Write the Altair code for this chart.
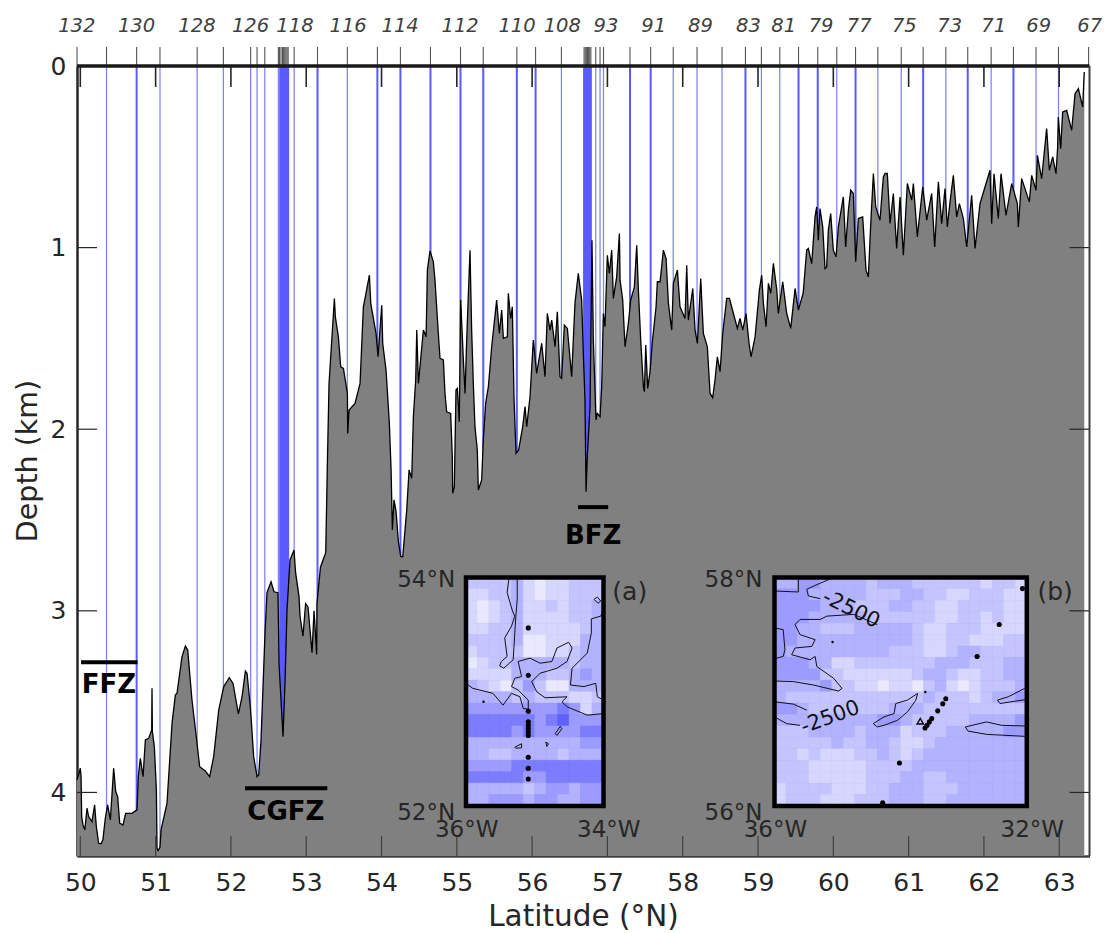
import altair as alt
import pandas as pd

FONT = "DejaVu Sans"
INK = "#262626"

# Bottom profile (latitude N, depth km), read section by section
profile_a = [(49.956,3.931),(49.98,3.90),(50.0,3.867),(50.01,3.913),(50.018,4.133),(50.036,4.179),(50.06,4.206),(50.089,4.087),
    (50.11,4.133),(50.155,4.161),(50.19,4.069),(50.213,4.188),(50.244,4.28),(50.275,4.283),(50.3,4.261),(50.332,4.142),
    (50.363,4.069),(50.399,4.151),(50.443,3.867),(50.47,3.995),(50.496,4.023),(50.523,4.169),(50.567,4.179),(50.602,4.115),
    (50.686,4.115),(50.753,4.096),(50.77,3.913),(50.797,3.812),(50.833,3.913),(50.864,3.711),(50.908,3.702),(50.948,3.656),
    (50.952,3.427),(50.957,3.665),(50.983,3.748),(51.01,3.986),(51.019,4.307),(51.032,4.32),(51.058,4.302),(51.072,4.206),
    (51.151,4.06),(51.218,3.62),(51.262,3.464),(51.284,3.454),(51.35,3.253),(51.395,3.194),(51.426,3.216),(51.483,3.491),
    (51.55,3.73),(51.585,3.858),(51.66,3.882),(51.718,3.913),(51.771,3.803),(51.838,3.546),(51.904,3.418),(51.979,3.368),
    (52.028,3.4),(52.099,3.568),(52.148,3.473),(52.192,3.332),(52.214,3.344),(52.258,3.528),(52.302,3.803),(52.347,3.913),
    (52.369,3.904),(52.4,3.711)]
profile_b = [(52.453,3.12),(52.479,2.90),(52.533,2.84),(52.572,2.895),(52.625,2.90),(52.64,3.3),(52.692,3.693),(52.718,3.4),
    (52.745,2.995),(52.785,2.72),(52.838,2.665),(52.859,2.79),(52.904,2.92),(52.918,3.03),(52.957,3.14),(52.992,2.96),
    (53.024,2.98),(53.077,3.23),(53.104,3.0),(53.139,3.24),(53.143,2.96),(53.189,2.76),(53.259,2.68),(53.282,2.17),
    (53.303,1.75),(53.374,1.28),(53.387,1.381),(53.427,1.491),(53.458,1.656),(53.494,1.665),(53.547,1.803),(53.551,2.023),
    (53.569,1.894),(53.648,1.858),(53.715,1.748),(53.759,1.326),(53.781,1.28),(53.839,1.152),(53.857,1.307),(53.927,1.472),
    (53.954,1.601),(54.003,1.317),(54.016,1.528),(54.06,1.674),(54.104,1.968),(54.127,2.224),(54.144,2.555),(54.166,2.389),
    (54.193,2.454),(54.224,2.619),(54.255,2.701),(54.282,2.701),(54.335,2.444),(54.366,2.224),(54.401,2.27),(54.423,1.931),
    (54.454,1.729),(54.468,1.454),(54.49,1.748),(54.556,1.454),(54.592,1.491),(54.609,1.124)]
profile_c = [(54.644,1.018),(54.688,1.078),(54.71,1.179),(54.732,1.326),(54.763,1.527),(54.777,1.61),(54.821,1.619),(54.843,1.803),
    (54.865,1.904),(54.918,1.913),(54.94,2.151),(54.945,2.353),(54.967,2.316),(54.989,1.784),(55.007,1.775),(55.033,1.959),
    (55.051,1.289),(55.087,1.619),(55.109,1.803),(55.131,1.509),(55.175,1.014),(55.197,1.454),(55.219,1.748),(55.241,1.986),
    (55.272,2.114),(55.286,2.335),(55.33,2.279),(55.352,2.059),(55.383,1.858),(55.419,1.766),(55.463,1.546),(55.529,1.289),
    (55.565,1.473),(55.596,1.344),(55.618,1.5),(55.671,1.491),(55.684,1.252),(55.715,1.39),(55.737,1.326),(55.759,1.821),
    (55.786,2.133),(55.821,2.114),(55.875,1.986),(55.906,1.876),(55.928,1.986),(55.972,1.821),(56.016,1.509),(56.06,1.693),
    (56.127,1.527),(56.171,1.711),(56.202,1.362),(56.238,1.454),(56.26,1.399),(56.304,1.546),(56.335,1.353),(56.37,1.711),
    (56.392,1.72),(56.428,1.427),(56.468,1.445),(56.525,1.711),(56.569,1.307),(56.613,1.142),(56.658,1.289),(56.68,1.583),
    (56.702,1.839),(56.716,2.344),(56.733,2.151),(56.769,1.876),(56.795,0.959),(56.813,1.509),(56.848,1.949),(56.866,1.913),
    (56.902,1.931),(56.924,1.766),(56.946,1.363)]
profile_d = [(56.968,1.436),(56.999,1.042),(57.026,1.142),(57.057,1.014),(57.079,1.28),(57.123,1.161),(57.159,0.922),(57.168,1.179),
    (57.203,1.289),(57.234,1.546),(57.278,1.418),(57.309,1.289),(57.358,1.216),(57.389,0.987),(57.411,1.234),(57.442,1.509),
    (57.478,1.766),(57.491,1.793),(57.509,1.537),(57.535,1.775),(57.566,1.683),(57.597,1.518),(57.646,1.326),(57.663,1.188),
    (57.699,1.188),(57.743,1.014),(57.779,1.06),(57.81,1.307),(57.854,1.454),(57.876,1.197),(57.929,1.124),(57.964,1.326),
    (58.031,1.39),(58.053,1.097),(58.075,1.399),(58.133,1.225),(58.164,1.454),(58.195,1.528),(58.239,1.17),(58.274,1.472),
    (58.327,1.546),(58.363,1.803),(58.398,1.826),(58.429,1.729),(58.46,1.601),(58.496,1.683),(58.531,1.472),(58.584,1.28),
    (58.62,1.28),(58.673,1.363),(58.726,1.445),(58.761,1.39),(58.797,1.454),(58.841,1.363),(58.881,1.528),(58.907,1.601),
    (58.961,1.491),(59.018,1.234),(59.049,1.152),(59.071,1.307),(59.107,1.436),(59.138,1.197),(59.169,1.252),(59.204,1.087),
    (59.249,1.234),(59.27,1.363),(59.328,1.188),(59.381,1.363),(59.434,1.445),(59.492,1.225),(59.536,1.344),(59.6,1.25)]
profile_e = [(59.646,1.014),(59.668,1.005),(59.713,1.088),(59.757,0.831),(59.779,0.776),(59.801,0.959),(59.823,0.785),(59.859,0.886),
    (59.89,1.115),(59.912,1.106),(59.934,0.904),(59.965,0.812),(60.0,1.014),(60.036,1.051),(60.067,0.886),(60.133,0.721),
    (60.164,0.996),(60.2,0.794),(60.231,0.684),(60.266,0.702),(60.297,1.078),(60.332,0.84),(60.39,0.831),(60.434,1.124),
    (60.465,1.161),(60.496,0.877),(60.532,0.592),(60.563,0.776),(60.62,0.849),(60.664,0.611),(60.687,0.592),(60.717,0.592),
    (60.753,0.867),(60.797,0.702),(60.841,1.005),(60.886,0.721),(60.93,1.042),(60.983,0.647),(61.041,0.739),(61.063,0.647),
    (61.116,0.941),(61.187,0.666),(61.24,0.849),(61.306,0.702),(61.346,0.996)]
profile_f = [(61.395,0.638),(61.439,0.868),(61.483,0.675),(61.514,0.886),(61.55,0.748),(61.594,0.602),(61.638,0.831),(61.674,0.758),
    (61.727,0.84),(61.771,0.996),(61.793,0.904),(61.837,0.712),(61.882,1.005),(61.948,0.758),(62.014,0.666),(62.081,0.574),
    (62.103,0.868),(62.134,0.593),(62.191,0.84),(62.227,0.593),(62.293,0.822),(62.369,0.648),(62.444,0.758),(62.457,0.886),
    (62.501,0.62),(62.603,0.748),(62.634,0.602),(62.692,0.684),(62.71,0.492),(62.767,0.62),(62.833,0.345),(62.869,0.574),
    (62.913,0.501),(62.957,0.593),(62.979,0.446),(62.988,0.281),(63.019,0.455),(63.046,0.253),(63.099,0.244),(63.165,0.354),
    (63.21,0.152),(63.254,0.125),(63.312,0.226),(63.329,0.061),(63.333,0.033)]
profile = profile_a + profile_b + profile_c + profile_d + profile_e + profile_f

# Stations
stations_thin = [50.348,51.058,51.552,51.9,52.262,52.347,52.45,52.63,52.645,52.84,53.546,56.389,56.845,56.902,56.948,
    57.874,58.19,58.522,59.045,59.289,60.046,60.591,60.902,61.494,62.096,62.692,62.99]
stations_bold = [50.748,52.665,52.685,52.70,52.715,52.73,52.745,52.76,53.15,53.945,54.251,54.65,55.049,55.351,55.797,56.046,
    56.69,56.705,56.72,56.735,56.75,56.765,56.78,57.3,57.574,58.833,59.538,59.793,60.295,61.193,61.785,62.392]
station_edges = [49.956,63.39]
top_names = ["132","130","128","126","118","116","114","112","110","108","93","91","89","83","81","79","77","75","73","71","69","67"]
top_lats = [49.953,50.746,51.549,52.26,52.85,53.556,54.247,55.044,55.8,56.4,56.98,57.615,58.236,58.873,59.342,59.837,60.344,60.943,61.545,62.13,62.727,63.405]
lat_ticks = list(range(50, 64))
depth_ticks = [0, 1, 2, 3, 4]

LAT_DOMAIN = [49.956, 63.402]
DEPTH_MAX = 4.35
W, H = 1012.5, 790

xs = alt.Scale(domain=LAT_DOMAIN, nice=False, zero=False)
ys = alt.Scale(domain=[0, DEPTH_MAX], nice=False, zero=False, reverse=True)
x_axis = alt.Axis(
        values=lat_ticks, title="Latitude (°N)", format="d", grid=False, ticks=False, labelFont=FONT, labelFontSize=25,
        labelColor=INK, labelPadding=14, domainColor="#404040", domainWidth=2.5, titleFont=FONT, titleFontSize=29.5,
        titleFontWeight="normal", titleColor=INK, titleX=506, titleY=69, titleBaseline="alphabetic")
y_axis = alt.Axis(
        values=depth_ticks, title="Depth (km)", format="d", grid=False, ticks=False, labelFont=FONT, labelFontSize=25,
        labelColor=INK, labelPadding=11, domainColor=INK, domainWidth=2.5, titleFont=FONT, titleFontSize=28.5,
        titleFontWeight="normal", titleColor=INK, titleX=-41, titleY=394.5, titleBaseline="alphabetic")
X = alt.X("lat:Q", scale=xs, axis=x_axis)
Y = alt.Y("depth:Q", scale=ys, axis=y_axis)
Xn = X
Yn = Y

prof_df = pd.DataFrame(profile, columns=["lat", "depth"])

def xframe(vals):
    return pd.DataFrame({"lat": vals})
def yframe(vals):
    return pd.DataFrame({"depth": vals})

rule_thin = alt.Chart(xframe(stations_thin)).mark_rule(color="#7c7cff", strokeWidth=1.2).encode(
    x=Xn, y=alt.value(0), y2=alt.value(H))
rule_bold = alt.Chart(xframe(stations_bold)).mark_rule(color="#5a5aff", strokeWidth=2).encode(
    x=Xn, y=alt.value(0), y2=alt.value(H))
area = alt.Chart(prof_df).mark_area(color="#808080", opacity=1, line={"color": "black", "strokeWidth": 1.3}, interpolate="linear").encode(
    x=X, y=Y, y2=alt.datum(DEPTH_MAX))
top_ticks = alt.Chart(xframe(stations_thin + stations_bold + station_edges)).mark_rule(color="#555555", strokeWidth=1.1).encode(
    x=Xn, y=alt.value(-19), y2=alt.value(0))
top_text = alt.Chart(pd.DataFrame({"lat": top_lats, "name": top_names})).mark_text(
    font=FONT, fontSize=19.5, fontStyle="italic", color="#404040", baseline="alphabetic", align="center").encode(
    x=Xn, y=alt.value(-34), text="name:N")
in_top = alt.Chart(xframe(lat_ticks)).mark_rule(color=INK, strokeWidth=1.6).encode(x=Xn, y=alt.value(0), y2=alt.value(21))
in_bot = alt.Chart(xframe(lat_ticks)).mark_rule(color="#404040", strokeWidth=1.2).encode(x=Xn, y=alt.value(H - 20), y2=alt.value(H))
in_left = alt.Chart(yframe(depth_ticks[1:])).mark_rule(color=INK, strokeWidth=1.2).encode(y=Yn, x=alt.value(0), x2=alt.value(20))
in_right = alt.Chart(yframe(depth_ticks[1:])).mark_rule(color=INK, strokeWidth=1.2).encode(y=Yn, x=alt.value(W - 20), x2=alt.value(W))
frame_top = alt.Chart(yframe([0])).mark_rule(color="#1a1a1a", strokeWidth=3.5).encode(y=Yn, x=alt.value(0), x2=alt.value(W))
frame_right = alt.Chart(xframe([LAT_DOMAIN[1]])).mark_rule(color="#404040", strokeWidth=2).encode(x=Xn, y=alt.value(0), y2=alt.value(H))

# Fracture-zone bars and names
fz_names = ["FFZ", "CGFZ", "BFZ"]
fz_start = [50.01, 52.187, 56.61]
fz_end = [50.76, 53.28, 57.01]
fz_bar_depth = [3.283, 3.977, 2.429]
fz_text_lat = [50.38, 52.73, 56.81]
fz_text_depth = [3.452, 4.15, 2.632]
fz_bars = alt.Chart(pd.DataFrame({"lat": fz_start, "lat2": fz_end, "depth": fz_bar_depth})).mark_rule(color="black", strokeWidth=4).encode(
    x=Xn, x2="lat2:Q", y=Yn)
fz_text = alt.Chart(pd.DataFrame({"lat": fz_text_lat, "depth": fz_text_depth, "name": fz_names})).mark_text(
    font=FONT, fontSize=26, fontWeight="bold", color="black", baseline="alphabetic", align="center").encode(x=Xn, y=Yn, text="name:N")

# Inset corner labels, placed in the main chart's coordinates
def text_layer(lats, deps, labels, align, size=23):
    return alt.Chart(pd.DataFrame({"lat": lats, "depth": deps, "name": labels})).mark_text(
        font=FONT, fontSize=size, color=INK, baseline="alphabetic", align=align).encode(x=Xn, y=Yn, text="name:N")

lab_center = text_layer([55.131, 57.018, 59.231, 62.642], [4.245] * 4, ["36°W", "34°W", "36°W", "32°W"], "center")
lab_right = text_layer([54.978, 54.978, 59.06, 59.06], [2.869, 4.151, 2.869, 4.151], ["54°N", "52°N", "58°N", "56°N"], "right")
lab_left = text_layer([57.065, 62.711], [2.94, 2.94], ["(a)", "(b)"], "left", 25)

main = alt.layer(rule_thin, rule_bold, area, top_ticks, top_text, in_top, in_bot, in_left, in_right, frame_top, frame_right,
                 fz_bars, fz_text, lab_center, lab_right, lab_left)

# Inset maps: shading level per cell, rows from north to south
LEVEL_COLORS = ["#e8e8ff", "#d6d6ff", "#c4c4ff", "#b2b2ff", "#9c9cff", "#7c7cff", "#6060ff"]
levels_a = [
    [2,2,2,2,3,1,0,1,1,2,2,2],[1,1,2,2,3,1,0,1,1,2,2,2],[1,0,1,2,3,1,1,2,1,2,2,3],[1,0,1,2,3,1,1,1,1,2,2,3],
    [1,1,2,2,3,1,1,1,1,1,2,3],[2,2,2,2,3,0,0,1,1,1,3,3],[1,2,2,2,2,0,0,1,1,2,3,3],[0,1,2,2,3,3,3,3,3,2,3,3],
    [1,1,1,1,3,3,3,2,2,3,4,3],[3,2,1,0,2,4,2,0,0,3,3,3],[3,3,3,3,2,3,2,2,2,1,1,2],[4,4,4,4,4,4,4,4,5,4,1,3],
    [5,5,5,5,5,5,4,5,6,4,4,4],[5,5,5,5,4,5,4,4,4,4,5,5],[3,3,3,3,3,3,3,3,3,3,4,4],[3,3,2,2,3,3,3,3,2,3,3,3],
    [4,4,4,4,5,5,5,5,5,5,5,5],[5,5,5,5,5,4,4,5,5,5,5,5],[3,3,3,3,3,2,3,4,4,3,4,4],[3,3,4,4,4,3,4,4,3,3,4,4]]
levels_b = [
    [3,3,4,4,3,3,3,3,2,3,3,3,2,2,2,2,2,2,1,2,2,1],[4,4,4,3,3,3,3,3,2,2,2,3,3,2,2,1,1,2,2,2,1,1],
    [4,4,4,4,3,3,3,2,2,2,3,3,2,2,1,1,2,2,2,2,1,1],[4,4,4,3,3,3,3,3,2,2,2,2,2,2,1,1,2,2,1,2,1,1],
    [4,4,3,3,2,2,2,3,3,3,3,3,2,1,1,2,2,2,1,1,1,1],[4,4,3,3,3,3,3,3,3,3,3,3,2,1,1,2,2,1,1,1,2,2],
    [4,3,3,3,3,3,3,3,3,3,2,2,2,1,1,2,3,3,2,2,2,2],[4,4,4,3,3,1,1,2,2,2,2,2,2,2,3,3,3,2,2,2,3,3],
    [4,4,4,4,2,2,1,1,1,1,1,1,2,3,3,2,1,1,2,2,3,3],[3,3,3,3,4,2,2,1,1,0,1,1,0,2,3,1,0,1,2,2,2,3],
    [3,2,2,2,2,2,2,2,2,2,2,2,2,3,2,2,2,1,2,3,3,4],[4,4,3,2,2,2,2,2,2,2,3,3,3,2,2,2,2,2,2,2,2,2],
    [3,3,3,3,3,3,3,3,3,4,4,3,2,2,2,2,2,3,3,3,3,4],[2,2,2,3,3,3,3,2,3,3,3,1,2,2,2,3,3,3,3,3,4,4],
    [2,2,2,2,2,3,2,2,3,3,2,1,1,2,3,3,3,3,3,3,3,3],[2,2,1,2,1,1,1,2,2,3,2,1,2,3,3,3,3,3,3,3,3,3],
    [2,2,2,1,1,1,1,1,2,2,2,2,3,3,3,3,3,3,3,3,3,3],[2,2,2,1,1,1,1,1,2,2,2,3,3,2,2,3,3,3,3,3,3,3],
    [1,2,2,2,2,1,1,1,2,2,3,3,3,2,2,2,3,3,3,3,3,3],[1,2,2,2,1,1,1,2,2,2,3,3,3,2,2,3,3,3,3,3,3,3]]

contours_a = [
    [(-35.373,54),(-35.402,53.868),(-35.324,53.706),(-35.29,53.662),(-35.338,53.574),(-35.437,53.471),(-35.402,53.309),(-35.486,53.265),
     (-35.51,53.227),(-35.451,53.206),(-35.314,53.28),(-35.275,53.662),(-35.255,53.809),(-35.255,54)],
    [(-36,53.074),(-35.902,53.03),(-35.608,52.986),(-35.461,52.883),(-35.338,52.986),(-35.216,52.956),(-35.167,52.853),(-35.094,52.848),
     (-35.094,52.927),(-35.241,53.015),(-35.338,53.045),(-35.29,53.118),(-35.192,53.133),(-35.241,53.265),(-35.069,53.294),(-34.922,53.25),
     (-34.75,53.265),(-34.677,53.383),(-34.506,53.433),(-34.457,53.383),(-34.53,53.265),(-34.677,53.206),(-34.922,53.162),(-35.045,53.089),
     (-34.971,53.0),(-34.849,52.947),(-34.53,52.956),(-34.604,52.912),(-34.53,52.868),(-34.236,52.795),(-34,52.809)],
    [(-34,53.721),(-34.04,53.662),(-34.177,53.638),(-34.177,53.515),(-34.236,53.339),(-34.457,53.206),(-34.481,53.059),(-34.285,53.045),
     (-34.113,53.074),(-34.089,52.956),(-34,52.927)],
    [(-34.138,53.809),(-34.089,53.829),(-34.04,53.794),(-34.08,53.774),(-34.138,53.809)],
    [(-34.702,52.633),(-34.628,52.698),(-34.604,52.677),(-34.677,52.618),(-34.702,52.633)],
    [(-35.29,52.515),(-35.192,52.545),(-35.192,52.509),(-35.275,52.506),(-35.29,52.515)],
    [(-34.839,52.559),(-34.8,52.545),(-34.824,52.521),(-34.839,52.559)]]
contours_b = [
    [(-36,57.882),(-35.622,57.873),(-35.622,57.985),(-35.65,58)],
    [(-35.063,58),(-35.276,57.95),(-35.489,57.897),(-35.462,57.838),(-35.276,57.815)],
    [(-34.37,57.588),(-34.743,57.677),(-35.169,57.662),(-35.276,57.633),(-35.595,57.633),(-35.675,57.588),(-35.595,57.5),(-35.356,57.456),
     (-35.409,57.397),(-35.675,57.383),(-35.728,57.324),(-35.435,57.28),(-35.356,57.309),(-35.329,57.221),(-35.063,57.118),(-34.93,57.03),
     (-34.983,57.006),(-35.382,57.059),(-35.702,57.089),(-36,57.094)],
    [(-36,57.559),(-35.862,57.544),(-35.835,57.368),(-35.862,57.309),(-36,57.289)],
    [(-36,56.912),(-35.702,56.892),(-35.489,56.839)],
    [(-36,56.78),(-35.808,56.721),(-35.595,56.706)],
    [(-34.434,56.721),(-34.264,56.78),(-34.104,56.809),(-34.077,56.897),(-33.891,56.927),(-33.731,56.986),(-33.758,56.927),(-33.891,56.824),
     (-34.051,56.75),(-34.264,56.706),(-34.37,56.692),(-34.434,56.721)],
    [(-32,57.039),(-32.293,56.956),(-32.464,56.927),(-32.426,56.897),(-32,56.933)],
    [(-32,56.7),(-32.4,56.706),(-32.639,56.736),(-32.975,56.692),(-32.932,56.656),(-32.639,56.627),(-32,56.609)]]

stations_a = [(-35.094,53.559),(-35.094,53.144),(-35.094,52.83),(-35.094,52.736),(-35.094,52.706),(-35.094,52.677),(-35.094,52.648),
              (-35.094,52.618),(-35.094,52.427),(-35.094,52.33),(-35.094,52.236)]
small_a = [(-35.745,52.912)]
stations_b = [(-32.069,57.903),(-32.437,57.588),(-32.788,57.309),(-33.284,56.939),(-33.332,56.895),(-33.412,56.833),(-33.507,56.765),
              (-33.545,56.736),(-33.582,56.706),(-33.614,56.683),(-34.019,56.377),(-34.285,56.027)]
small_b = [(-33.609,56.997),(-35.079,57.436)]
triangle_b = [(-33.689,56.742)]
contour_labels_b = [(-34.786,57.72,"-2500",26),(-35.116,56.774,"-2500",340)]

def inset(levels, contours, stations, small, lon_dom, lat_dom, x_range, y_range, triangle=None, labels=None):
    sx = alt.Scale(domain=lon_dom, range=x_range, nice=False, zero=False)
    sy = alt.Scale(domain=lat_dom, range=y_range, nice=False, zero=False)
    Ix = alt.X("lon:Q", scale=sx, axis=None)
    Iy = alt.Y("la:Q", scale=sy, axis=None)
    nr, nc = len(levels), len(levels[0])
    dlon = (lon_dom[1] - lon_dom[0]) / nc
    dlat = (lat_dom[1] - lat_dom[0]) / nr
    cells = [{"lon": lon_dom[0] + c * dlon, "lon2": lon_dom[0] + (c + 1) * dlon,
              "la": lat_dom[1] - r * dlat, "la2": lat_dom[1] - (r + 1) * dlat, "level": levels[r][c]}
             for r in range(nr) for c in range(nc)]
    level_scale = alt.Scale(domain=list(range(7)), range=LEVEL_COLORS)
    rects = alt.Chart(pd.DataFrame(cells)).mark_rect(strokeWidth=0.6).encode(
        x=Ix, x2="lon2:Q", y=Iy, y2="la2:Q",
        color=alt.Color("level:O", scale=level_scale, legend=None),
        stroke=alt.Stroke("level:O", scale=level_scale, legend=None))
    rows = [{"id": i, "seq": j, "lon": p[0], "la": p[1]} for i, line in enumerate(contours) for j, p in enumerate(line)]
    lines = alt.Chart(pd.DataFrame(rows)).mark_line(color="#111111", strokeWidth=1, interpolate="linear").encode(
        x=Ix, y=Iy, detail="id:N", order="seq:Q")
    dots = alt.Chart(pd.DataFrame(stations, columns=["lon", "la"])).mark_point(filled=True, color="black", size=26, opacity=1).encode(x=Ix, y=Iy)
    smalls = alt.Chart(pd.DataFrame(small, columns=["lon", "la"])).mark_point(filled=True, color="black", size=6, opacity=1).encode(x=Ix, y=Iy)
    box = alt.Chart(pd.DataFrame({"lon": [lon_dom[0]], "lon2": [lon_dom[1]], "la": [lat_dom[0]], "la2": [lat_dom[1]]})).mark_rect(
        fill=None, filled=False, stroke="black", strokeWidth=4.5).encode(x=Ix, x2="lon2:Q", y=Iy, y2="la2:Q")
    parts = [rects, lines, dots, smalls]
    if triangle:
        parts.append(alt.Chart(pd.DataFrame(triangle, columns=["lon", "la"])).mark_point(
            shape="triangle-up", filled=False, color="black", size=40, strokeWidth=1.4, opacity=1).encode(x=Ix, y=Iy))
    for lon, la, txt, ang in (labels or []):
        parts.append(alt.Chart(pd.DataFrame({"lon": [lon], "la": [la], "t": [txt]})).mark_text(
            font=FONT, fontSize=21, color="#111111", angle=ang, align="center", baseline="middle").encode(x=Ix, y=Iy, text="t:N"))
    parts.append(box)
    return alt.layer(*parts)

inset_a = inset(levels_a, contours_a, stations_a, small_a, [-36, -34], [52, 54], [389, 526.5], [740, 511.5])
inset_b = inset(levels_b, contours_b, stations_b, small_b, [-36, -32], [56, 58], [697.5, 949.8], [740, 511.5],
                triangle=triangle_b, labels=contour_labels_b)

chart = alt.layer(main, inset_a, inset_b).resolve_scale(x="independent", y="independent").properties(
    width=W, height=H, autosize=alt.AutoSizeParams(type="none"),
    padding={"left": 69, "top": 58, "right": 12.5, "bottom": 76},
    background="white"
).configure_view(stroke=None)

chart.save("out.html", embed_options={"renderer": "svg", "actions": False})
